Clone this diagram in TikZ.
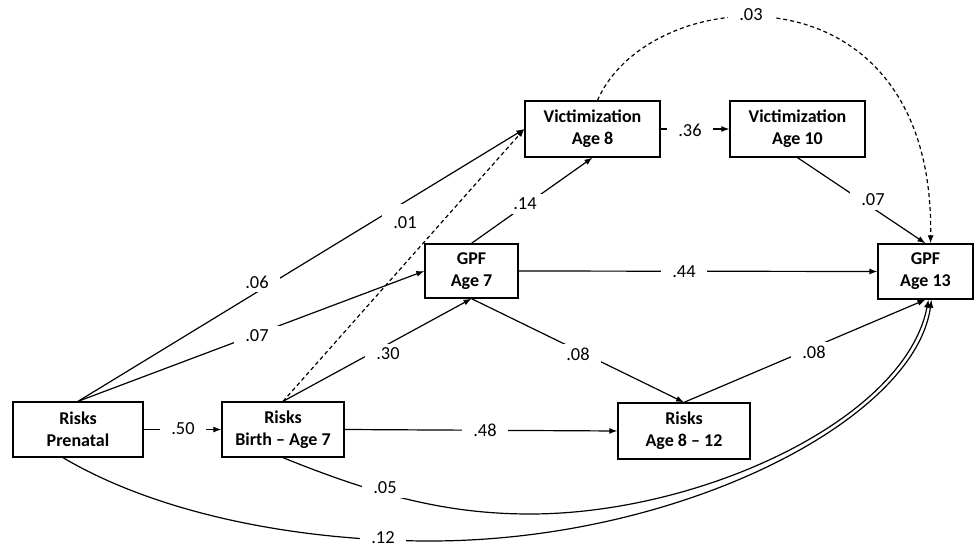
\documentclass[tikz,border=0pt]{standalone}
\usepackage{fontspec}
\setmainfont{Carlito}
\usetikzlibrary{arrows.meta}
\begin{document}
\begin{tikzpicture}[x=1pt,y=-1pt,
  box/.style={draw,line width=1.3pt,align=center,inner sep=0pt,font=\fontsize{18}{22}\selectfont\bfseries},
  lab/.style={fill=white,inner xsep=11pt,inner ysep=4pt,font=\fontsize{18.4}{22}\selectfont},
  conn/.style={line width=1.2pt,-{Latex[length=8pt,width=6pt]}},
  dsh/.style={conn,dash pattern=on 4pt off 3pt}]
\useasboundingbox (0,0) rectangle (975,548);

% boxes
\node[box,minimum width=130pt,minimum height=55pt] (pre) at (78,429.5) {Risks\\Prenatal};
\node[box,minimum width=122pt,minimum height=55pt] (birth) at (283,429.5) {Risks\\Birth – Age 7};
\node[box,minimum width=93pt,minimum height=54pt] (gpf7) at (471.5,271) {GPF\\Age 7};
\node[box,minimum width=135pt,minimum height=56pt] (vict8) at (592.5,129) {Victimization\\Age 8};
\node[box,minimum width=135pt,minimum height=56pt] (vict10) at (797.5,129) {Victimization\\Age 10};
\node[box,minimum width=95pt,minimum height=55pt] (gpf13) at (925.5,271.5) {GPF\\Age 13};
\node[box,minimum width=132pt,minimum height=56pt] (r812) at (684,431) {Risks\\Age 8 – 12};

% connectors
\draw[conn] (pre) -- (birth);
\draw[conn] (pre.north) -- (vict8.west);
\draw[conn] (pre.north) -- (gpf7.west);
\draw[dsh] (birth.north) -- (vict8.west);
\draw[conn] (birth.north) -- (gpf7.south);
\draw[conn] (birth.east) -- (r812.west);
\draw[conn] (gpf7.north) -- (vict8.south);
\draw[conn] (gpf7.east) -- (gpf13.west);
\draw[conn] (gpf7.south) -- (r812.north);
\draw[conn] (vict8.east) -- (vict10.west);
\draw[conn] (vict10.south) -- (gpf13.north);
\draw[conn] (r812.north) -- (gpf13.south);
\draw[dsh] ([xshift=5pt]vict8.north) .. controls (650,-20) and (935,-40) .. ([xshift=5pt]gpf13.north);
\draw[conn] (birth.south) .. controls (380,497) and (450,514) .. (530,514)
   .. controls (700,514) and (905,420) .. ([xshift=3pt]gpf13.south);
\draw[conn] ([xshift=-15pt]pre.south) .. controls (160,515) and (300,541) .. (430,541)
   .. controls (680,541) and (915,420) .. ([xshift=6pt]gpf13.south);

% labels
\node[lab] (l50) at (183,429) {.50};
\node[lab] (l48) at (485,430) {.48};
\node[lab] (l44) at (684,272) {.44};
\node[lab] (l08a) at (578,354) {.08};
\node[lab] (l08b) at (814,352) {.08};
\node[lab] (l30) at (388,354) {.30};
\node[lab] (l14) at (525,204) {.14};
\node[lab] (l36) at (690,130) {.36};
\node[lab] (l07b) at (873,200) {.07};
\node[lab] (l07a) at (257,336) {.07};
\node[lab] (l06) at (257,282) {.06};
\node[lab,anchor=base,text height=21pt] (l01) at (405,229) {.01};
\node[lab] (l03) at (751,15) {.03};
\node[lab] (l05) at (385,488) {.05};
\node[lab,inner ysep=1pt] (l12) at (383,537.5) {.12};
\end{tikzpicture}
\end{document}
